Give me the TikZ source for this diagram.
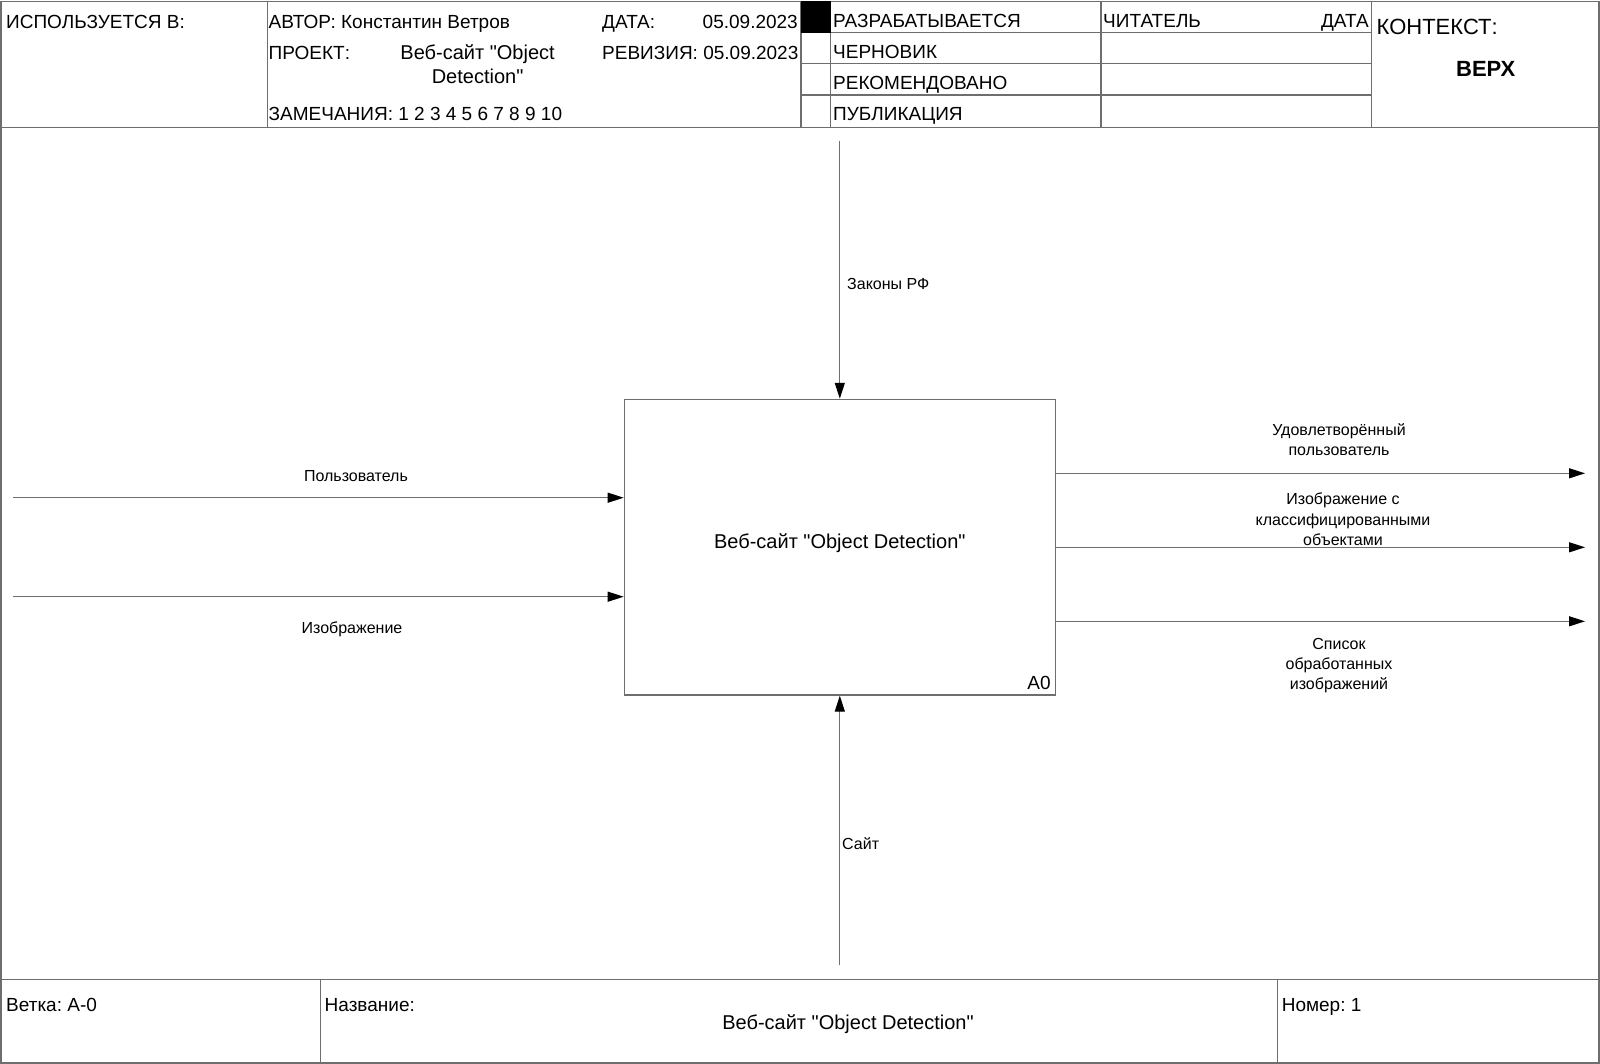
\documentclass[tikz,border=0pt]{standalone}
\usepackage{fontspec}
\setmainfont{Liberation Sans}[Ligatures=TeXOff]
\usetikzlibrary{arrows.meta}
\definecolor{ln}{RGB}{110,110,110}
\frenchspacing
\begin{document}
\begin{tikzpicture}[x=1pt,y=-1pt,
  frame/.style={draw=ln, line width=1.2pt},
  flow/.style={draw=ln, line width=1.2pt, -{Triangle[length=16pt,width=10pt,color=black]}},
  hdr/.style={font=\fontsize{19}{22}\selectfont, inner sep=0pt},
  hdrl/.style={font=\fontsize{20}{23}\selectfont, inner sep=0pt},
  big/.style={font=\fontsize{22}{26}\selectfont, inner sep=0pt},
  lbl/.style={font=\fontsize{16}{20.3}\selectfont, inner sep=0pt, align=center},
  box/.style={draw=ln, line width=1.2pt, minimum width=431pt, minimum height=295.7pt, inner sep=0pt,
              font=\fontsize{20}{24}\selectfont}]
\useasboundingbox (0,0) rectangle (1600,1064);
% outer frame
\draw[frame] (1,1.5) rectangle (1599,1063);
% header
\draw[frame] (1,127.5) -- (1599,127.5);
\draw[frame] (267.4,1.5) -- (267.4,127.5);
\draw[frame] (801,1.5) -- (801,127.5);
\draw[frame] (830.6,1.5) -- (830.6,127.5);
\draw[frame] (1101,1.5) -- (1101,127.5);
\draw[frame] (1371.5,1.5) -- (1371.5,127.5);
\draw[frame] (801,32.6) -- (1371.5,32.6);
\draw[frame] (801,63.3) -- (1371.5,63.3);
\draw[frame] (801,95) -- (1371.5,95);
\fill[black] (801,1.5) rectangle (830.6,32.6);
% header texts
\node[hdr, anchor=base west] (usedin) at (6,28.5) {ИСПОЛЬЗУЕТСЯ В:};
\node[hdr, anchor=base west] (author) at (268.5,28.5) {АВТОР: Константин Ветров};
\node[hdr, anchor=base west] (datel) at (602,28.5) {ДАТА:};
\node[hdr, anchor=base east] (datev) at (798,28.5) {05.09.2023};
\node[hdr, anchor=base west] (proj) at (268.5,59.5) {ПРОЕКТ:};
\node[hdrl, anchor=base] (projv1) at (477.6,59.5) {Веб-сайт "Object};
\node[hdrl, anchor=base] (projv2) at (477.6,84) {Detection"};
\node[hdr, anchor=base west] (rev) at (602,59.5) {РЕВИЗИЯ: 05.09.2023};
\node[hdr, anchor=base west] (notes) at (268.5,121) {ЗАМЕЧАНИЯ: 1 2 3 4 5 6 7 8 9 10};
\node[hdr, anchor=base west] (st1) at (833,28) {РАЗРАБАТЫВАЕТСЯ};
\node[hdr, anchor=base west] (st2) at (833,58.5) {ЧЕРНОВИК};
\node[hdr, anchor=base west] (st3) at (833,89.5) {РЕКОМЕНДОВАНО};
\node[hdr, anchor=base west] (st4) at (833,121) {ПУБЛИКАЦИЯ};
\node[hdr, anchor=base west] (reader) at (1103,28) {ЧИТАТЕЛЬ};
\node[hdr, anchor=base east] (rdate) at (1369,28) {ДАТА};
\node[big, anchor=base west] (ctx) at (1376.5,34.5) {КОНТЕКСТ:};
\node[big, anchor=base, font=\fontsize{22}{26}\selectfont\bfseries] (top) at (1485.7,77) {ВЕРХ};
% footer
\draw[frame] (1,979.6) -- (1599,979.6);
\draw[frame] (320.4,979.6) -- (320.4,1063);
\draw[frame] (1277.6,979.6) -- (1277.6,1063);
\node[hdr, anchor=base west] (node) at (6,1011) {Ветка: А-0};
\node[hdr, anchor=base west] (title) at (324.5,1011) {Название:};
\node[hdrl, anchor=base] (titlev) at (848,1029.5) {Веб-сайт "Object Detection"};
\node[hdr, anchor=base west] (num) at (1281.6,1011) {Номер: 1};
% activity
\node[box] (a0) at (839.8,547.2) {\raisebox{13pt}{Веб-сайт "Object Detection"}};
\node[hdr, anchor=base east] (a0num) at ([xshift=-5pt,yshift=6pt]a0.south east) {A0};
% connectors
\coordinate (ctl) at (839.8,141);
\coordinate (mech) at (839.8,965);
\coordinate (in1) at (13,497.7);
\coordinate (in2) at (13,596.7);
\coordinate (out1) at (1585,473.3);
\coordinate (out2) at (1585,547.3);
\coordinate (out3) at (1585,621.3);
\draw[flow] (ctl) -- (a0.north);
\draw[flow] (mech) -- (a0.south);
\draw[flow] (in1) -- (in1 -| a0.west);
\draw[flow] (in2) -- (in2 -| a0.west);
\draw[flow] (out1 -| a0.east) -- (out1);
\draw[flow] (out2 -| a0.east) -- (out2);
\draw[flow] (out3 -| a0.east) -- (out3);
% labels
\node[lbl, anchor=base west] (lctl) at (847,289.5) {Законы РФ};
\node[lbl, anchor=base west] (lmech) at (842,849) {Сайт};
\node[lbl, anchor=base] (lin1) at (356,481) {Пользователь};
\node[lbl, anchor=base] (lin2) at (352,633) {Изображение};
\node[lbl] (lout1) at (1339,439.3) {Удовлетворённый\\пользователь};
\node[lbl] (lout2) at (1343,519.4) {Изображение с\\классифицированными\\объектами};
\node[lbl] (lout3) at (1339,665.4) {Список\\обработанных\\изображений};
\end{tikzpicture}
\end{document}
